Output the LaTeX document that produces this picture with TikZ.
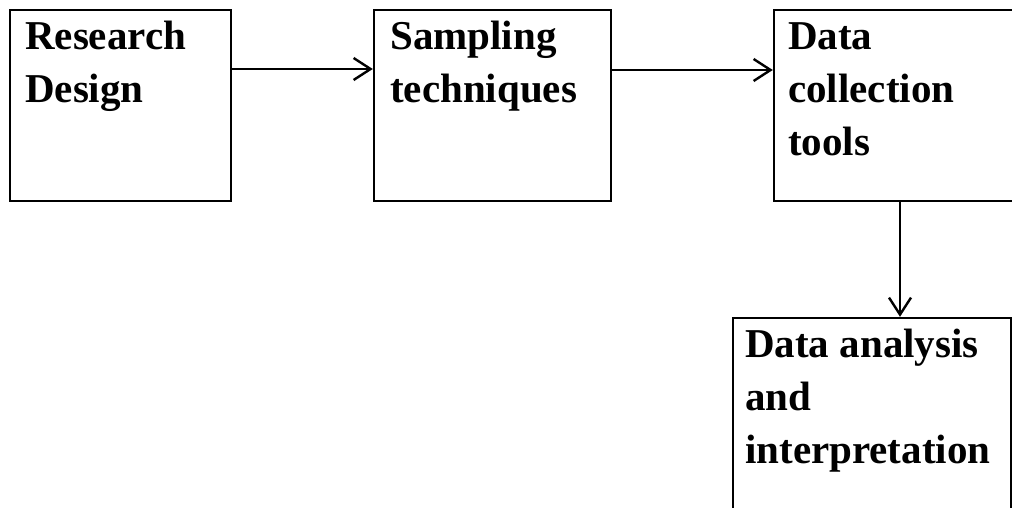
\documentclass[tikz,border=0pt]{standalone}
\usepackage{fontspec}
\setmainfont{Liberation Serif}
\usetikzlibrary{arrows.meta}
\tikzset{
  box/.style={draw=black, line width=2.4pt, rectangle, inner sep=0pt},
  boxtext/.style={anchor=base west, inner sep=0pt, font=\bfseries\fontsize{41}{53}\selectfont},
  conn/.style={line width=2.4pt, -{Straight Barb[length=17pt,width=22pt,line width=2.4pt]}}
}
\begin{document}
\begin{tikzpicture}[x=1pt,y=1pt]
\useasboundingbox (0,0) rectangle (1012,-508);
\fill[white] (0,0) rectangle (1012,-508);
\node[box, minimum width=221pt, minimum height=191pt] (b1) at (120.5,-105.5) {};
\node[box, minimum width=237pt, minimum height=191pt] (b2) at (492.5,-105.5) {};
\node[box, minimum width=256pt, minimum height=191pt] (b3) at (902,-105.5) {};
\node[box, minimum width=278pt, minimum height=212pt] (b4) at (872,-424) {};
\node[boxtext] (t1) at (25,-50) {\parbox[t]{200pt}{Research\\Design}};
\node[boxtext] (t2) at (390,-50) {\parbox[t]{220pt}{Sampling\\techniques}};
\node[boxtext] (t3) at (788,-50) {\parbox[t]{220pt}{Data\\collection\\tools}};
\node[boxtext] (t4) at (745,-357) {\parbox[t]{265pt}{Data analysis\\and\\interpretation}};
\draw[conn] (b1.east |- 0,-69) -- (b2.west |- 0,-69);
\draw[conn] (b2.east |- 0,-70) -- (b3.west |- 0,-70);
\draw[conn] (b3.south -| 900,0) -- (b4.north -| 900,0);
\end{tikzpicture}
\end{document}
